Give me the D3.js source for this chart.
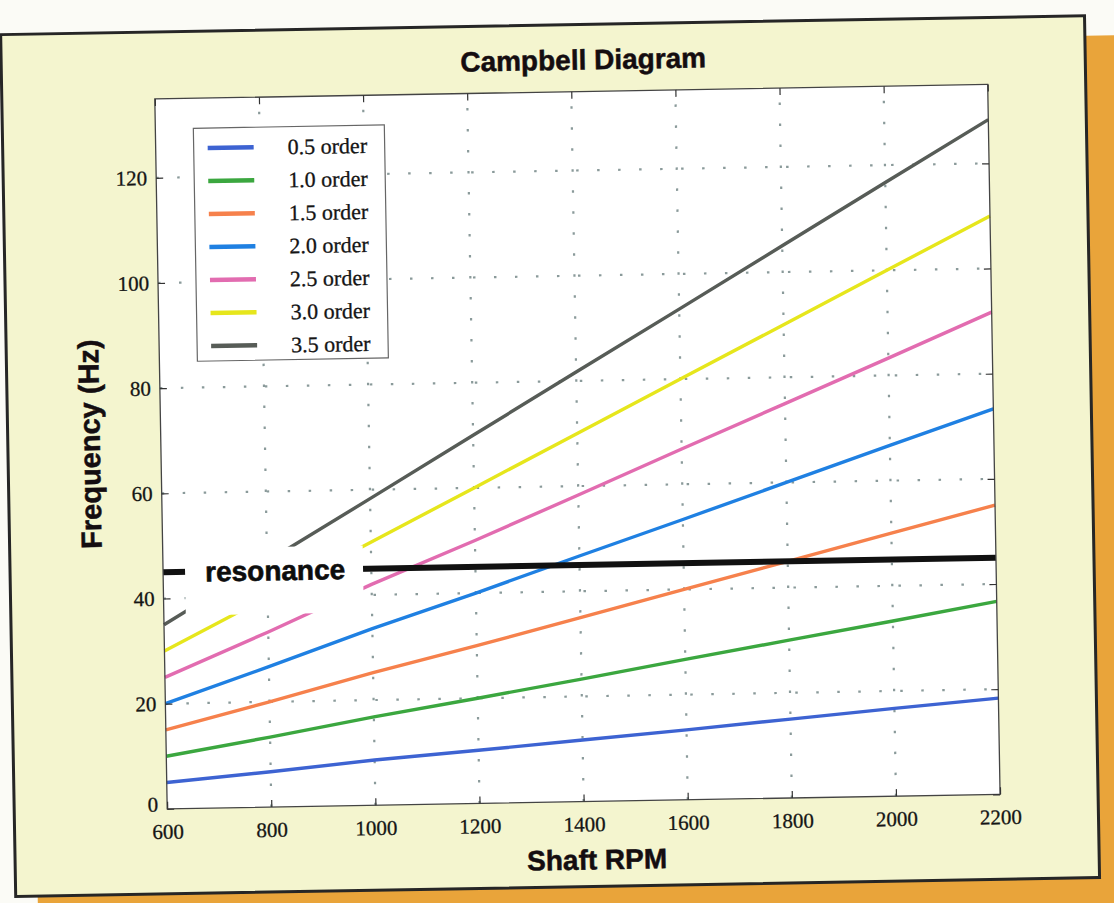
<!DOCTYPE html>
<html>
<head>
<meta charset="utf-8">
<script src="https://cdn.jsdelivr.net/npm/d3@7"></script>
<style>
  html, body { margin: 0; padding: 0; background: #fbfbf6; overflow: hidden; }
  svg { display: block; }
</style>
</head>
<body>
<svg id="chart" width="1114" height="903"></svg>
<script>
// Shaft speed samples (RPM) and excitation frequency (Hz) for each engine order
const rpm = [600, 800, 1000, 1200, 1400, 1600, 1800, 2000, 2200];
const order05 = [5.0, 6.7, 8.6, 10.1, 11.7, 13.3, 15.0, 16.7, 18.3];
const order10 = [10.0, 13.3, 16.8, 20.0, 23.3, 26.7, 30.0, 33.3, 36.7];
const order15 = [15.0, 20.0, 25.2, 30.0, 35.0, 40.0, 45.0, 50.0, 55.0];
const order20 = [20.0, 26.7, 33.6, 40.0, 46.7, 53.3, 60.0, 66.7, 73.3];
const order25 = [25.0, 33.3, 42.0, 50.0, 58.3, 66.7, 75.0, 83.3, 91.7];
const order30 = [30.0, 40.0, 50.0, 60.0, 70.0, 80.0, 90.0, 100.0, 110.0];
const order35 = [35.0, 46.7, 58.3, 70.0, 81.7, 93.3, 105.0, 116.7, 128.3];
const orderLabels = ["0.5 order", "1.0 order", "1.5 order", "2.0 order", "2.5 order", "3.0 order", "3.5 order"];
const resonanceHz = 45;
const resonanceLabel = "resonance";
const xTickValues = [600, 800, 1000, 1200, 1400, 1600, 1800, 2000, 2200];
const yTickValues = [0, 20, 40, 60, 80, 100, 120];
const titleText = "Campbell Diagram";
const xLabelText = "Shaft RPM";
const yLabelText = "Frequency (Hz)";

const orderColors = ["#3d63d2", "#3ba73f", "#f6814c", "#1f80e2", "#e26cb0", "#e6e61c", "#575c57"];
const series = [order05, order10, order15, order20, order25, order30, order35];

const plot = { left: 161, right: 994, top: 92, bottom: 802 };
const serif = "'Liberation Serif', 'DejaVu Serif', serif";
const sans = "'Liberation Sans', Arial, sans-serif";

const svg = d3.select("#chart");

// The printed sheet sits slightly tilted on the page
const page = svg.append("g").attr("transform", "rotate(-1, 557, 450)");

// Orange backing card and the pale card on top of it
page.append("rect").attr("x", 30).attr("y", 45).attr("width", 1300).attr("height", 1100)
  .attr("fill", "#e9a43a");
page.append("rect").attr("x", 8).attr("y", 25).attr("width", 1084).attr("height", 862)
  .attr("fill", "#f4f5cf").attr("stroke", "#262626").attr("stroke-width", 3);

const x = d3.scaleLinear().domain([600, 2200]).range([plot.left, plot.right]);
const y = d3.scaleLinear().domain([0, 135]).range([plot.bottom, plot.top]);

// Plot area
page.append("rect")
  .attr("x", plot.left).attr("y", plot.top)
  .attr("width", plot.right - plot.left).attr("height", plot.bottom - plot.top)
  .attr("fill", "#ffffff");

// Dotted grid
const grid = page.append("g").attr("stroke", "#8a9a9a").attr("stroke-width", 2.2)
  .attr("stroke-dasharray", "2.5,18.5").attr("fill", "none");
grid.selectAll("line.gx").data(xTickValues.slice(1, -1)).join("line")
  .attr("x1", d => x(d)).attr("x2", d => x(d)).attr("y1", plot.bottom).attr("y2", plot.top);
grid.selectAll("line.gy").data(yTickValues.slice(1)).join("line")
  .attr("x1", plot.left).attr("x2", plot.right).attr("y1", d => y(d)).attr("y2", d => y(d));

// Order lines
const line = d3.line().x((d, i) => x(rpm[i])).y(d => y(d));
page.append("g").selectAll("path").data(series).join("path")
  .attr("d", d => line(d))
  .attr("fill", "none")
  .attr("stroke", (d, i) => orderColors[i])
  .attr("stroke-width", 3.4)
  .attr("stroke-linejoin", "round");

// Resonance line with its label box
page.append("line")
  .attr("x1", x(600)).attr("x2", x(2200))
  .attr("y1", y(resonanceHz)).attr("y2", y(resonanceHz))
  .attr("stroke", "#111").attr("stroke-width", 6);
page.append("rect").attr("x", 183).attr("y", 542).attr("width", 178).attr("height", 67)
  .attr("fill", "#ffffff");
page.append("text").attr("x", 203).attr("y", y(resonanceHz) + 10)
  .attr("font-family", sans).attr("font-weight", "bold").attr("font-size", 28)
  .attr("fill", "#0d0d0d").attr("stroke", "#0d0d0d").attr("stroke-width", 0.6)
  .text(resonanceLabel);

// Frame
page.append("rect")
  .attr("x", plot.left).attr("y", plot.top)
  .attr("width", plot.right - plot.left).attr("height", plot.bottom - plot.top)
  .attr("fill", "none").attr("stroke", "#444").attr("stroke-width", 1.3);

// Axes: inward ticks on all four sides
const tickLen = 7;
const xAxisBottom = d3.axisBottom(x).tickValues(xTickValues).tickSize(-tickLen).tickPadding(15).tickFormat(d3.format("d"));
const xAxisTop = d3.axisTop(x).tickValues(xTickValues).tickSize(-tickLen).tickFormat("");
const yAxisLeft = d3.axisLeft(y).tickValues(yTickValues).tickSize(-tickLen).tickPadding(9).tickFormat(d3.format("d"));
const yAxisRight = d3.axisRight(y).tickValues(yTickValues).tickSize(-tickLen).tickFormat("");

function styleAxis(g) {
  g.select(".domain").remove();
  g.selectAll(".tick line").attr("stroke", "#333").attr("stroke-width", 1.2);
  g.selectAll(".tick text").attr("font-family", serif).attr("font-size", 21)
    .attr("fill", "#151515").attr("stroke", "#151515").attr("stroke-width", 0.3);
}
page.append("g").attr("transform", `translate(0,${plot.bottom})`).call(xAxisBottom).call(styleAxis);
page.append("g").attr("transform", `translate(0,${plot.top})`).call(xAxisTop).call(styleAxis);
const yLeft = page.append("g").attr("transform", `translate(${plot.left},0)`).call(yAxisLeft).call(styleAxis);
// the zero label sits a little higher so it clears the first RPM label
yLeft.selectAll(".tick text").filter(d => d === 0).attr("dy", "0.1em");
page.append("g").attr("transform", `translate(${plot.right},0)`).call(yAxisRight).call(styleAxis);

// Legend
const legend = page.append("g");
legend.append("rect").attr("x", 199).attr("y", 122).attr("width", 191).attr("height", 233)
  .attr("fill", "#ffffff").attr("stroke", "#666").attr("stroke-width", 1.2);
const rows = legend.selectAll("g.row").data(orderLabels).join("g")
  .attr("transform", (d, i) => `translate(0,${142 + i * 33})`);
rows.append("line").attr("x1", 213).attr("x2", 259).attr("y1", 0).attr("y2", 0)
  .attr("stroke", (d, i) => orderColors[i]).attr("stroke-width", 4.5);
rows.append("text").attr("x", 293).attr("y", 0).attr("dy", "0.35em")
  .attr("font-family", serif).attr("font-size", 22).attr("fill", "#151515")
  .attr("stroke", "#151515").attr("stroke-width", 0.3)
  .text(d => d);

// Titles
page.append("text").attr("x", 590).attr("y", 70).attr("text-anchor", "middle")
  .attr("font-family", sans).attr("font-weight", "bold").attr("font-size", 28)
  .attr("fill", "#140d10").attr("stroke", "#140d10").attr("stroke-width", 0.5).text(titleText);
page.append("text").attr("x", 590).attr("y", 870).attr("text-anchor", "middle")
  .attr("font-family", sans).attr("font-weight", "bold").attr("font-size", 28)
  .attr("fill", "#140d10").attr("stroke", "#140d10").attr("stroke-width", 0.5).text(xLabelText);
page.append("text").attr("transform", "translate(100,436) rotate(-90)").attr("text-anchor", "middle")
  .attr("font-family", sans).attr("font-weight", "bold").attr("font-size", 29)
  .attr("fill", "#140d10").attr("stroke", "#140d10").attr("stroke-width", 0.5).text(yLabelText);
</script>
</body>
</html>
